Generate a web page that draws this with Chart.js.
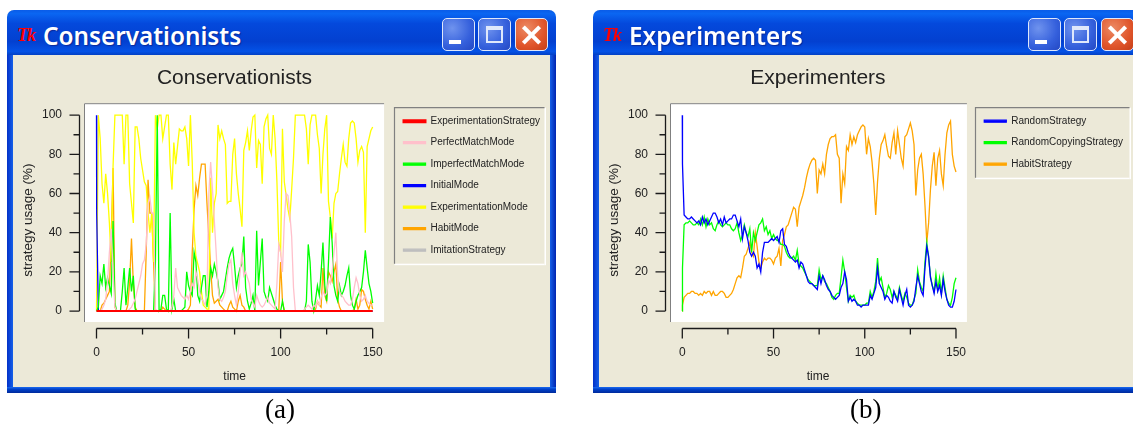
<!DOCTYPE html>
<html>
<head>
<meta charset="utf-8">
<title>Strategy usage</title>
<script src="https://cdn.jsdelivr.net/npm/chart.js@4/dist/chart.umd.min.js"></script>
<style>
    html, body { margin: 0; padding: 0; background: #fff; width: 1133px; height: 429px; overflow: hidden; }
    #root { position: relative; width: 1133px; height: 429px; overflow: hidden; filter: blur(0.3px); }
    .win { position: absolute; top: 10px; width: 549px; height: 383px; background: #ece9d8;
        border-radius: 7px 7px 0 0; box-sizing: border-box; }
    #winA { left: 7px; }
    #winB { left: 593px; }
    .bar { position: absolute; left: 0; top: 0; right: 0; height: 45px; border-radius: 7px 7px 0 0;
        background: linear-gradient(#0a5ce8 0, #0a66f2 8%, #0449dc 30%, #0340d0 70%, #0452e6 92%, #0340c4 100%); }
    .side { position: absolute; top: 45px; bottom: 0; width: 6px; background: linear-gradient(90deg, #0230c8, #1560e8); }
    .side.l { left: 0; }
    .side.r { right: 0; background: linear-gradient(90deg, #1560e8, #0024b0); }
    .foot { position: absolute; left: 0; right: 0; bottom: 0; height: 6px; background: linear-gradient(#1a6af0 0, #0040c8 40%, #002a9c); }
    .icon { position: absolute; left: 10px; top: 15px; color: #f00; font: italic bold 18px "Liberation Serif"; letter-spacing: -1px; }
    .cap { position: absolute; left: 36px; top: 9px; color: #fff; font: 600 24.3px "Noto Sans"; line-height: 34px;
        text-shadow: 1px 1px 1px #0a2a9a; white-space: nowrap; }
    .btn { position: absolute; top: 8px; width: 33px; height: 33px; box-sizing: border-box; border: 1px solid #dfe8fb;
        border-radius: 5px; background: radial-gradient(circle at 30% 30%, #6f93ee, #3560dc 60%, #2348c4); }
    .btn.min { left: 435px; }
    .btn.max { left: 471px; }
    .btn.close { left: 508px; background: radial-gradient(circle at 35% 30%, #ec8a64, #e0552a 60%, #c43e18); }
    .btn.min i { position: absolute; left: 6px; bottom: 6px; width: 12px; height: 4px; background: #fff; }
    .btn.max i { position: absolute; left: 7px; top: 7px; width: 17px; height: 17px; box-sizing: border-box;
        border: 2px solid #dfe8fb; border-top-width: 4px; }
    .btn.close i, .btn.close b { position: absolute; left: 4px; top: 14px; width: 23px; height: 4px; background: #fff; }
    .btn.close i { transform: rotate(45deg); }
    .btn.close b { transform: rotate(-45deg); }
    canvas { position: absolute; left: 6px; top: 45px; }
    .fig { position: absolute; top: 394px; font: 27px "Liberation Serif"; color: #000; }
</style>
</head>
<body>
<div id="root">
    <div class="win" id="winA">
        <div class="bar"></div><div class="side l"></div><div class="side r"></div><div class="foot"></div>
        <div class="icon">Tk</div><div class="cap">Conservationists</div>
        <div class="btn min"><i></i></div><div class="btn max"><i></i></div><div class="btn close"><i></i><b></b></div>
        <canvas id="conservationists" width="537" height="332"></canvas>
    </div>
    <div class="win" id="winB">
        <div class="bar"></div><div class="side l"></div><div class="side r"></div><div class="foot"></div>
        <div class="icon">Tk</div><div class="cap">Experimenters</div>
        <div class="btn min"><i></i></div><div class="btn max"><i></i></div><div class="btn close"><i></i><b></b></div>
        <canvas id="experimenters" width="537" height="332"></canvas>
    </div>
    <div class="fig" style="left:265px">(a)</div>
    <div class="fig" style="left:850px">(b)</div>
</div>
<script>
// tick labels
const xTickValues = [0, 25, 50, 75, 100, 125, 150];
const xTickLabels = ['0', '', '50', '', '100', '', '150'];
const yTickValues = [0, 10, 20, 30, 40, 50, 60, 70, 80, 90, 100];
const yTickLabels = ['0', '', '20', '', '40', '', '60', '', '80', '', '100'];

// (a) Conservationists
const flatTime = [0, 150];
const experimentationStrategy = [0, 0];
const imitationStrategy = [0, 0];
const initialModeTime = [0, 0.1, 1, 150];
const initialMode = [100, 50, 0, 0];
const experimentationMode = [
    0, 100, 88, 65, 55, 70, 60, 45, 25, 74,
    100, 100, 100, 100, 100, 75, 100, 100, 65, 55,
    45, 94, 94, 88, 78, 72, 66, 64, 50, 40,
    50, 25, 100, 93, 100, 100, 88, 94, 100, 100,
    75, 62, 86, 75, 84, 93, 92, 92, 94, 88,
    74, 100, 76, 40, 28, 24, 20, 10, 3, 2,
    1, 1, 68, 40, 55, 60, 95, 88, 92, 88,
    85, 55, 56, 56, 80, 88, 70, 60, 52, 43,
    82, 86, 92, 82, 92, 99, 100, 73, 87, 85,
    65, 94, 98, 100, 83, 80, 100, 88, 66, 35,
    30, 93, 66, 59, 52, 47, 62, 78, 100, 100,
    100, 100, 100, 100, 93, 75, 95, 100, 100, 100,
    90, 83, 60, 80, 93, 100, 56, 48, 37, 55,
    60, 61, 70, 78, 85, 76, 74, 88, 96, 97,
    96, 88, 76, 82, 84, 81, 40, 84, 88, 92,
    94];
const imperfectMatchMode = [
    0, 2, 18, 14, 24, 12, 17, 13, 9, 46,
    4, 0, 0, 0, 10, 22, 3, 12, 22, 10,
    18, 1, 0, 0, 0, 0, 0, 0, 0, 0,
    0, 0, 25, 100, 0, 1, 8, 8, 1, 0,
    50, 1, 6, 0, 0, 0, 0, 1, 2, 20,
    13, 10, 8, 30, 25, 8, 5, 12, 18, 18,
    2, 10, 22, 18, 24, 20, 15, 6, 8, 10,
    16, 22, 27, 30, 32, 23, 12, 18, 22, 24,
    38, 12, 5, 1, 4, 8, 0, 41, 13, 25,
    37, 10, 7, 5, 12, 9, 6, 3, 1, 0,
    0, 5, 0, 0, 0, 0, 0, 0, 0, 0,
    0, 0, 0, 0, 5, 34, 25, 5, 0, 6,
    13, 8, 20, 35, 13, 5, 25, 48, 35, 13,
    8, 5, 13, 8, 10, 13, 18, 22, 8, 3,
    1, 5, 8, 10, 12, 20, 31, 22, 14, 10,
    4];
const perfectMatchMode = [
    0, 0, 0, 1, 3, 6, 15, 30, 42, 20,
    2, 0, 0, 0, 0, 0, 0, 0, 1, 2,
    4, 6, 10, 14, 18, 24, 26, 34, 55, 58,
    50, 50, 1, 0, 0, 0, 0, 0, 0, 0,
    0, 2, 8, 22, 12, 10, 8, 7, 6, 8,
    6, 10, 14, 12, 20, 16, 10, 6, 5, 3,
    8, 60, 76, 62, 46, 30, 12, 6, 5, 7,
    10, 18, 24, 26, 14, 8, 3, 10, 20, 30,
    18, 20, 17, 14, 6, 4, 2, 8, 5, 3,
    2, 3, 5, 7, 4, 3, 2, 1, 14, 34,
    30, 20, 46, 60, 59, 50, 38, 12, 0, 0,
    0, 0, 0, 1, 2, 3, 2, 1, 3, 2,
    5, 3, 7, 10, 8, 9, 16, 14, 20, 30,
    40, 18, 10, 8, 7, 5, 4, 3, 3, 6,
    12, 17, 14, 8, 5, 6, 8, 5, 4, 3,
    3];
const habitMode = [
    0, 0, 0, 3, 4, 6, 8, 10, 38, 73,
    2, 0, 0, 0, 0, 0, 0, 3, 15, 37,
    14, 2, 0, 0, 0, 0, 0, 30, 67, 50,
    50, 25, 0, 0, 0, 0, 2, 1, 0, 0,
    0, 0, 0, 0, 0, 0, 0, 0, 0, 0,
    1, 3, 30, 52, 64, 59, 68, 75, 75, 75,
    55, 38, 22, 8, 4, 5, 6, 3, 2, 1,
    0, 0, 3, 5, 2, 1, 0, 5, 8, 3,
    2, 0, 0, 0, 0, 0, 0, 0, 0, 0,
    0, 0, 0, 0, 0, 0, 0, 0, 0, 0,
    25, 5, 0, 0, 0, 0, 0, 0, 0, 0,
    0, 0, 0, 0, 0, 0, 0, 0, 0, 1,
    5, 3, 2, 22, 8, 5, 20, 18, 15, 20,
    24, 6, 2, 0, 0, 0, 0, 0, 0, 0,
    1, 6, 1, 3, 11, 10, 6, 3, 1, 5,
    1];

// (b) Experimenters - first two values are both near t=0
const randomStrategy = [100, 75,
    49, 48, 47, 47, 48, 47, 46, 45, 46, 44,
    48, 45, 47, 44, 46, 48, 50, 50, 48, 45,
    47, 44, 48, 45, 46, 47, 47, 49, 49, 46,
    43, 47, 37, 43, 40, 36, 30, 28, 30, 28,
    22, 24, 20, 30, 35, 35, 35, 36, 37, 36,
    37, 38, 35, 41, 42, 34, 33, 30, 28, 27,
    26, 25, 26, 22, 25, 24, 21, 18, 15, 14,
    14, 13, 12, 11, 18, 14, 18, 16, 13, 11,
    10, 8, 7, 6, 7, 8, 12, 14, 20, 16,
    5, 7, 5, 6, 5, 3, 3, 2, 3, 3,
    3, 3, 8, 6, 9, 12, 22, 14, 12, 10,
    6, 8, 7, 5, 4, 10, 7, 5, 11, 7,
    3, 8, 11, 3, 2, 3, 5, 12, 18, 14,
    10, 8, 22, 33, 28, 17, 13, 9, 15, 10,
    13, 8, 16, 10, 6, 3, 2, 2, 5, 11];
const randomCopyingStrategy = [0, 22,
    44, 45, 45, 46, 45, 44, 44, 45, 44, 47,
    44, 48, 43, 47, 44, 45, 42, 41, 44, 46,
    44, 43, 44, 45, 44, 44, 42, 41, 42, 45,
    40, 36, 39, 44, 40, 38, 42, 30, 40, 36,
    40, 44, 45, 47, 41, 43, 39, 41, 37, 39,
    37, 36, 36, 34, 34, 33, 30, 28, 27, 27,
    28, 26, 31, 24, 23, 22, 20, 18, 16, 15,
    14, 13, 13, 13, 21, 16, 18, 15, 14, 12,
    10, 7, 6, 8, 9, 9, 17, 26, 20, 12,
    5, 8, 7, 8, 5, 4, 3, 3, 3, 3,
    4, 4, 10, 7, 10, 15, 27, 15, 17, 12,
    7, 9, 13, 11, 7, 10, 8, 6, 12, 8,
    5, 9, 7, 4, 3, 3, 6, 9, 21, 15,
    12, 10, 25, 35, 27, 18, 13, 10, 19, 11,
    17, 9, 18, 12, 6, 4, 3, 7, 14, 17];
const habitStrategy = [0, 3,
    7, 8, 9, 9, 10, 10, 9, 9, 8, 9,
    8, 10, 9, 10, 10, 8, 10, 8, 8, 9,
    10, 10, 9, 7, 7, 8, 9, 11, 14, 17,
    18, 17, 22, 28, 29, 32, 35, 30, 28, 40,
    33, 25, 22, 25, 27, 26, 27, 27, 26, 24,
    27, 28, 32, 23, 36, 39, 43, 44, 47, 50,
    53, 52, 43, 53, 56, 59, 63, 68, 72, 75,
    77, 78, 77, 60, 72, 70, 75, 70, 80, 85,
    88, 89, 89, 90, 80, 78, 55, 70, 65, 84,
    82, 90, 85, 89, 86, 90, 92, 94, 95, 94,
    80, 88, 84, 76, 65, 49, 66, 78, 85, 87,
    90, 84, 79, 78, 86, 91, 80, 92, 85, 78,
    74, 89, 90, 93, 96, 92, 85, 59, 72, 78,
    80, 70, 54, 35, 45, 62, 74, 81, 64, 78,
    82, 70, 64, 80, 91, 95, 97, 80, 74, 71];

// time axis of the per-step series
const stepTime = [];
for (let t = 0; t <= 150; t++) stepTime.push(t);
const openingTime = [0, 0.1].concat(stepTime.slice(1));

function series(label, color, times, values, width) {
    return {
        label: label,
        data: values.map((v, i) => ({x: times[i], y: v})),
        borderColor: color,
        backgroundColor: color,
        borderWidth: width || 1.3,
        pointRadius: 0,
        tension: 0,
        fill: false
    };
}

// Sunken plot box, legend frame and the detached axes (BLT style)
const bltFrame = {
    id: 'bltFrame',
    afterLayout(chart) {
        // title sits over the plot box, not over the gap before the legend
        chart.titleBlock.right -= 7;
        chart.legend.top += 1.5;
    },
    beforeDraw(chart, args, opts) {
        const {ctx, chartArea: a, scales: {x, y}} = chart;
        const right = x.getPixelForValue(opts.plotEnd);
        ctx.save();
        ctx.fillStyle = '#fff';
        ctx.fillRect(a.left, a.top, right - a.left, a.bottom - a.top);
        ctx.strokeStyle = '#808080';
        ctx.lineWidth = 1;
        ctx.beginPath();
        ctx.moveTo(a.left + 0.5, a.bottom);
        ctx.lineTo(a.left + 0.5, a.top + 0.5);
        ctx.lineTo(right, a.top + 0.5);
        ctx.stroke();

        const boxes = chart.legend.legendHitBoxes;
        const last = boxes[boxes.length - 1];
        const fx = Math.round(chart.legend.left) + 2.5, fy = boxes[0].top - 8.5;
        const fw = opts.legendWidth, fh = last.top + last.height + 9 - boxes[0].top + 8;
        ctx.fillStyle = '#fff';
        ctx.fillRect(fx, fy + fh, fw, 1.5);
        ctx.fillRect(fx + fw, fy, 1.5, fh + 1.5);
        ctx.strokeStyle = '#808080';
        ctx.lineWidth = 1.2;
        ctx.beginPath();
        ctx.moveTo(fx, fy + fh);
        ctx.lineTo(fx, fy);
        ctx.lineTo(fx + fw, fy);
        ctx.stroke();

        ctx.strokeStyle = '#1a1a1a';
        ctx.lineWidth = 1.3;
        ctx.beginPath();
        const axisY = a.bottom + 6.5, axisX = a.left - 4.5;
        ctx.moveTo(x.getPixelForValue(0), axisY);
        ctx.lineTo(x.getPixelForValue(150), axisY);
        x.ticks.forEach(t => {
            const px = x.getPixelForValue(t.value);
            ctx.moveTo(px, axisY);
            ctx.lineTo(px, axisY + (t.label ? 10 : 6));
        });
        ctx.moveTo(axisX, y.getPixelForValue(0));
        ctx.lineTo(axisX, y.getPixelForValue(100));
        y.ticks.forEach(t => {
            const py = y.getPixelForValue(t.value);
            ctx.moveTo(axisX, py);
            ctx.lineTo(axisX - (t.label ? 10 : 6), py);
        });
        ctx.stroke();
        ctx.restore();
    }
};

function drawChart(canvasId, title, datasets, xMin, xMax, plotEnd, legendWidth, rightPad) {
    const ctx = document.getElementById(canvasId).getContext('2d');
    return new Chart(ctx, {
        type: 'line',
        data: {datasets: datasets},
        plugins: [bltFrame],
        options: {
            responsive: false,
            animation: false,
            parsing: false,
            normalized: false,
            layout: {padding: {right: rightPad}},
            plugins: {
                bltFrame: {plotEnd: plotEnd, legendWidth: legendWidth},
                tooltip: {enabled: false},
                title: {
                    display: true,
                    text: title,
                    fullSize: false,
                    color: '#222',
                    font: {family: 'Liberation Sans', size: 21, weight: 'normal'},
                    padding: {top: 11, bottom: 12}
                },
                legend: {
                    display: true,
                    position: 'right',
                    align: 'start',
                    fullSize: false,
                    maxWidth: 200,
                    labels: {
                        boxWidth: 22,
                        boxHeight: 2,
                        padding: 11.5,
                        color: '#222',
                        font: {family: 'Liberation Sans', size: 10}
                    }
                }
            },
            scales: {
                x: {
                    type: 'linear',
                    min: xMin,
                    max: xMax,
                    grid: {display: false},
                    border: {display: false},
                    afterBuildTicks: s => { s.ticks = xTickValues.map(v => ({value: v})); },
                    afterFit: s => { s.height = 65; },
                    ticks: {
                        autoSkip: false,
                        maxRotation: 0,
                        padding: 15,
                        color: '#222',
                        font: {family: 'Liberation Sans', size: 12},
                        callback: v => xTickLabels[xTickValues.indexOf(v)]
                    },
                    title: {
                        display: true,
                        text: 'time  ',
                        color: '#222',
                        font: {family: 'Liberation Sans', size: 12},
                        padding: {top: 0, bottom: 3}
                    }
                },
                y: {
                    type: 'linear',
                    min: -5.6,
                    max: 106.1,
                    grid: {display: false},
                    border: {display: false},
                    afterBuildTicks: s => { s.ticks = yTickValues.map(v => ({value: v})); },
                    afterFit: s => { s.width = 71; },
                    ticks: {
                        autoSkip: false,
                        padding: 14,
                        color: '#222',
                        font: {family: 'Liberation Sans', size: 12},
                        callback: v => yTickLabels[yTickValues.indexOf(v)]
                    },
                    title: {
                        display: true,
                        text: 'strategy usage (%)    ',
                        color: '#222',
                        font: {family: 'Liberation Sans', size: 13.5},
                        padding: {top: 7, bottom: 0}
                    }
                }
            }
        }
    });
}

drawChart('conservationists', 'Conservationists', [
    series('ExperimentationStrategy', '#ff0000', flatTime, experimentationStrategy, 2),
    series('PerfectMatchMode', '#ffc0cb', stepTime, perfectMatchMode),
    series('ImperfectMatchMode', '#00ff00', stepTime, imperfectMatchMode),
    series('InitialMode', '#0000ff', initialModeTime, initialMode),
    series('ExperimentationMode', '#ffff00', stepTime, experimentationMode),
    series('HabitMode', '#ffa500', stepTime, habitMode),
    series('ImitationStrategy', '#bebebe', flatTime, imitationStrategy)
], -6.79, 160.5, 156.2, 150, 0);

drawChart('experimenters', 'Experimenters', [
    series('RandomStrategy', '#0000ff', openingTime, randomStrategy),
    series('RandomCopyingStrategy', '#00ff00', openingTime, randomCopyingStrategy),
    series('HabitStrategy', '#ffa500', openingTime, habitStrategy)
], -6.74, 159.2, 156.0, 154, 3);
</script>
</body>
</html>
